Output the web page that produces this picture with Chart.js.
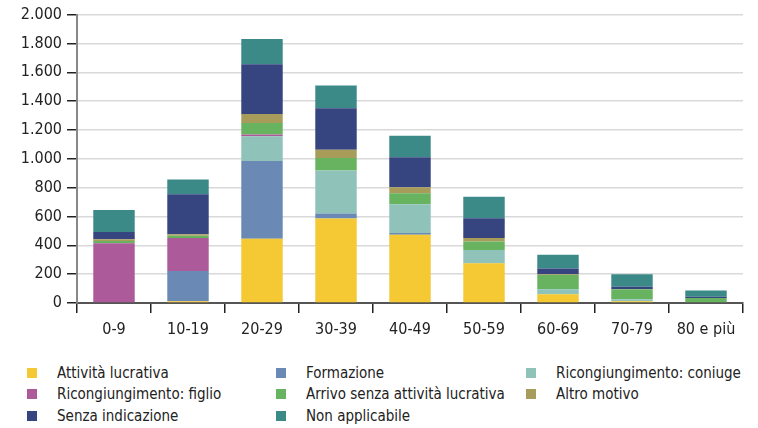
<!DOCTYPE html>
<html>
<head>
<meta charset="utf-8">
<script src="https://cdn.jsdelivr.net/npm/chart.js@4/dist/chart.umd.min.js"></script>
<style>
    body { margin: 0; background: #fff; width: 758px; height: 428px; overflow: hidden; }
    #wrap { position: relative; width: 758px; height: 350px; }
    #legend { position: absolute; left: 0; top: 361px; width: 758px; height: 67px;
        font-family: "Liberation Sans Narrow", "DejaVu Sans Condensed", sans-serif; font-size: 15px; color: #222; }
    .item { position: absolute; white-space: nowrap; line-height: 20px; }
    .box { position: absolute; width: 10px; height: 10px; top: 5px; }
</style>
</head>
<body>
<div id="wrap"><canvas id="chart" width="758" height="350"></canvas></div>
<div id="legend"></div>
<script>
var categories = ['0-9', '10-19', '20-29', '30-39', '40-49', '50-59', '60-69', '70-79', '80 e più'];
var yTicks = [0, 200, 400, 600, 800, 1000, 1200, 1400, 1600, 1800, 2000];

// stacked from bottom to top
var attivita   = [0, 12, 445, 586, 474, 275, 60, 12, 5];
var formazione = [0, 210, 540, 34, 12, 3, 0, 0, 0];
var coniuge    = [0, 0, 172, 298, 199, 89, 35, 14, 0];
var figlio     = [414, 229, 12, 0, 0, 0, 0, 0, 0];
var arrivo     = [16, 16, 80, 88, 76, 60, 99, 69, 30];
var altro      = [12, 9, 62, 57, 41, 23, 5, 2, 0];
var senza      = [50, 278, 345, 287, 208, 137, 41, 16, 9];
var nonAppl    = [153, 102, 174, 159, 149, 149, 95, 86, 42];

var seriesNames = ['Attività lucrativa', 'Formazione', 'Ricongiungimento: coniuge',
    'Ricongiungimento: figlio', 'Arrivo senza attività lucrativa', 'Altro motivo',
    'Senza indicazione', 'Non applicabile'];
var seriesData = [attivita, formazione, coniuge, figlio, arrivo, altro, senza, nonAppl];
var seriesColors = ['#f5c933', '#6a8ab5', '#8fc2b9', '#ad5a9a', '#68b35f', '#a89c5a', '#36457f', '#3b8a87'];

var FONT = '"Liberation Sans Narrow", "DejaVu Sans Condensed", sans-serif';

var datasets = [];
for (var i = 0; i < seriesData.length; i++) {
    datasets.push({
        label: seriesNames[i],
        data: seriesData[i],
        backgroundColor: seriesColors[i],
        borderWidth: 0,
        barPercentage: 0.56,
        categoryPercentage: 1
    });
}

var ctx = document.getElementById('chart').getContext('2d');
var chart = new Chart(ctx, {
    type: 'bar',
    data: { labels: categories, datasets: datasets },
    options: {
        responsive: false,
        animation: false,
        layout: { padding: { left: 0, right: 15, top: 12, bottom: 0 } },
        plugins: { legend: { display: false }, tooltip: { enabled: false } },
        scales: {
            x: {
                stacked: true,
                grid: {
                    offset: true,
                    drawOnChartArea: true,
                    color: function (c) { return c.index === categories.length ? '#cccccc' : 'rgba(0,0,0,0)'; },
                    tickColor: '#222',
                    tickLength: 10,
                    lineWidth: 1.5
                },
                border: { color: '#555', width: 2 },
                ticks: { color: '#222', font: { family: FONT, size: 16 }, padding: 7 },
                afterFit: function (scale) { scale.height = 47; }
            },
            y: {
                stacked: true,
                min: 0,
                max: 2000,
                afterBuildTicks: function (scale) {
                    scale.ticks = yTicks.map(function (v) { return { value: v }; });
                },
                grid: { color: '#d9d9d9', lineWidth: 1.5, tickColor: '#222', tickLength: 10 },
                border: { color: '#888', width: 2 },
                ticks: {
                    color: '#222',
                    font: { family: FONT, size: 16 },
                    padding: 5,
                    callback: function (v) { return String(v).replace(/\B(?=(\d{3})+(?!\d))/g, '.'); }
                },
                afterFit: function (scale) { scale.width = 77; }
            }
        }
    }
});

// legend in three columns, like the original
var legend = document.getElementById('legend');
var colX = [27, 276, 526];
var rowY = [2, 23, 45];
for (var k = 0; k < seriesNames.length; k++) {
    var col = k % 3, row = Math.floor(k / 3);
    var item = document.createElement('div');
    item.className = 'item';
    item.style.left = colX[col] + 'px';
    item.style.top = rowY[row] + 'px';
    item.innerHTML = '<span class="box" style="left:0;background:' + seriesColors[k] + '"></span>' +
        '<span style="margin-left:30px">' + seriesNames[k] + '</span>';
    legend.appendChild(item);
}
</script>
</body>
</html>
